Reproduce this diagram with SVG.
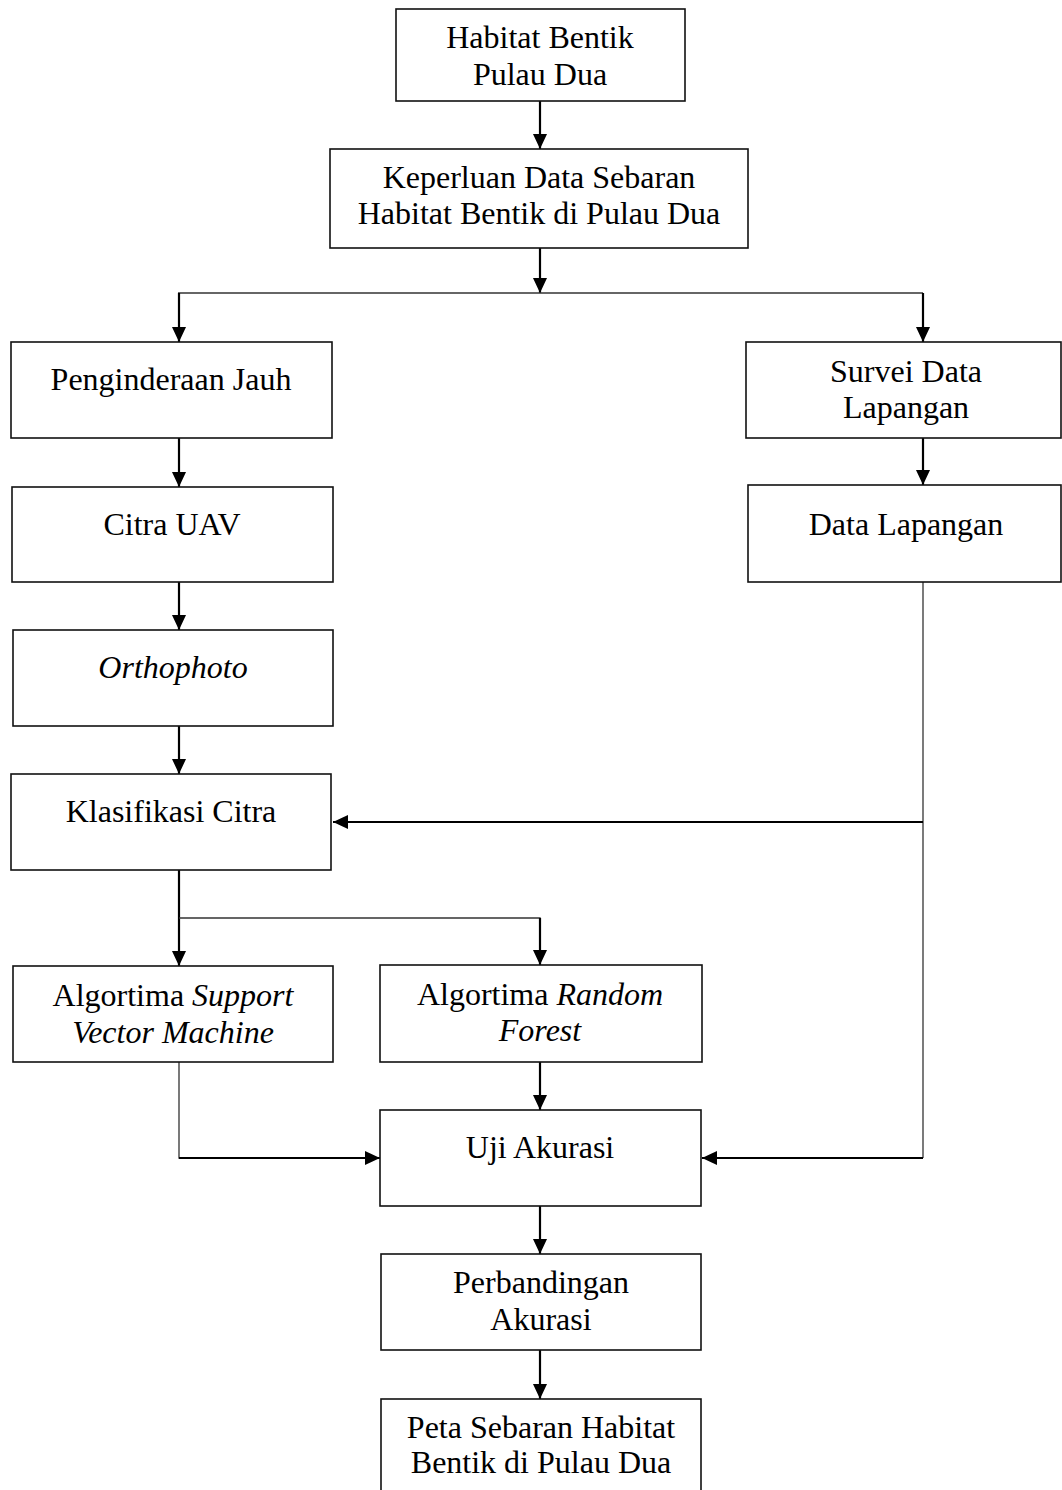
<svg xmlns="http://www.w3.org/2000/svg" width="1062" height="1490" viewBox="0 0 1062 1490">
<style>
.box{fill:#fff;stroke:#111;stroke-width:1.6}
.t{font-family:"Liberation Serif","Times New Roman",serif;font-size:32px;fill:#000;text-anchor:middle}
.i{font-style:italic}
.a{fill:none;stroke:#000;stroke-width:2.2;marker-end:url(#ah)}
.thin{fill:none;stroke:#333;stroke-width:1.3}
</style>
<defs>
<marker id="ah" markerUnits="userSpaceOnUse" markerWidth="16" markerHeight="16" refX="15" refY="7" orient="auto">
<path d="M0,0 L15,7 L0,14 Z" fill="#000"/>
</marker>
</defs>
<rect width="1062" height="1490" fill="#fff"/>
<g id="connectors">
<line class="a" x1="540" y1="101" x2="540" y2="149"/>
<line class="a" x1="540" y1="248" x2="540" y2="293"/>
<line class="thin" x1="178" y1="293" x2="923" y2="293"/>
<line class="a" x1="179" y1="293" x2="179" y2="342"/>
<line class="a" x1="923" y1="293" x2="923" y2="342"/>
<line class="a" x1="179" y1="438" x2="179" y2="487"/>
<line class="a" x1="923" y1="438" x2="923" y2="485"/>
<line class="a" x1="179" y1="582" x2="179" y2="630"/>
<line class="a" x1="179" y1="726" x2="179" y2="774"/>
<line class="thin" x1="923" y1="582" x2="923" y2="1158"/>
<line class="a" x1="923" y1="822" x2="333" y2="822"/>
<line class="a" x1="923" y1="1158" x2="702" y2="1158"/>
<line class="a" x1="179" y1="870" x2="179" y2="966"/>
<polyline class="thin" points="179,918 540,918 540,950"/>
<line class="a" x1="540" y1="918" x2="540" y2="965"/>
<polyline class="thin" points="179,1062 179,1158 190,1158"/>
<line class="a" x1="179" y1="1158" x2="380" y2="1158"/>
<line class="a" x1="540" y1="1062" x2="540" y2="1110"/>
<line class="a" x1="540" y1="1206" x2="540" y2="1254"/>
<line class="a" x1="540" y1="1350" x2="540" y2="1399"/>
</g>
<g id="n1"><rect class="box" x="396" y="9" width="289" height="92"/>
<text class="t" x="540" y="48">Habitat Bentik</text><text class="t" x="540" y="85">Pulau Dua</text></g>
<g id="n2"><rect class="box" x="330" y="149" width="418" height="99"/>
<text class="t" x="539" y="188">Keperluan Data Sebaran</text><text class="t" x="539" y="224">Habitat Bentik di Pulau Dua</text></g>
<g id="n3"><rect class="box" x="11" y="342" width="321" height="96"/>
<text class="t" x="171" y="390">Penginderaan Jauh</text></g>
<g id="n4"><rect class="box" x="12" y="487" width="321" height="95"/>
<text class="t" x="172" y="535">Citra UAV</text></g>
<g id="n5"><rect class="box" x="13" y="630" width="320" height="96"/>
<text class="t i" x="173" y="678">Orthophoto</text></g>
<g id="n6"><rect class="box" x="746" y="342" width="315" height="96"/>
<text class="t" x="906" y="382">Survei Data</text><text class="t" x="906" y="418">Lapangan</text></g>
<g id="n7"><rect class="box" x="748" y="485" width="313" height="97"/>
<text class="t" x="906" y="535">Data Lapangan</text></g>
<g id="n8"><rect class="box" x="11" y="774" width="320" height="96"/>
<text class="t" x="171" y="822">Klasifikasi Citra</text></g>
<g id="n9"><rect class="box" x="13" y="966" width="320" height="96"/>
<text class="t" x="173" y="1006">Algortima <tspan class="i">Support</tspan></text><text class="t i" x="173" y="1043">Vector Machine</text></g>
<g id="n10"><rect class="box" x="380" y="965" width="322" height="97"/>
<text class="t" x="540" y="1005">Algortima <tspan class="i">Random</tspan></text><text class="t i" x="540" y="1041">Forest</text></g>
<g id="n11"><rect class="box" x="380" y="1110" width="321" height="96"/>
<text class="t" x="540" y="1158">Uji Akurasi</text></g>
<g id="n12"><rect class="box" x="381" y="1254" width="320" height="96"/>
<text class="t" x="541" y="1293">Perbandingan</text><text class="t" x="541" y="1330">Akurasi</text></g>
<g id="n13"><rect class="box" x="381" y="1399" width="320" height="110"/>
<text class="t" x="541" y="1438">Peta Sebaran Habitat</text><text class="t" x="541" y="1473">Bentik di Pulau Dua</text></g>
</svg>
